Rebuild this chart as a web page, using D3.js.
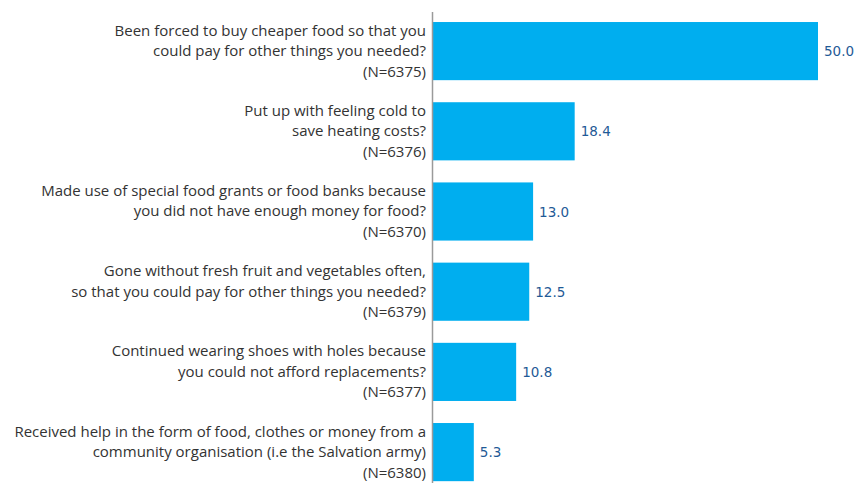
<!DOCTYPE html>
<html><head><meta charset="utf-8">
<script src="https://cdn.jsdelivr.net/npm/d3@7"></script>
<style>body{margin:0;background:#fff}svg{display:block}</style>
</head><body>
<svg id="c" width="857" height="483"></svg>
<script>
const labels = [
  ["Been forced to buy cheaper food so that you","could pay for other things you needed?","(N=6375)"],
  ["Put up with feeling cold to","save heating costs?","(N=6376)"],
  ["Made use of special food grants or food banks because","you did not have enough money for food?","(N=6370)"],
  ["Gone without fresh fruit and vegetables often,","so that you could pay for other things you needed?","(N=6379)"],
  ["Continued wearing shoes with holes because","you could not afford replacements?","(N=6377)"],
  ["Received help in the form of food, clothes or money from a","community organisation (i.e the Salvation army)","(N=6380)"]
];
const values = [50.0, 18.4, 13.0, 12.5, 10.8, 5.3];
const ids = d3.range(values.length);

const svg = d3.select("#c");
const x = d3.scaleLinear().domain([0, 50]).range([433, 818]);
const y = d3.scaleBand().domain(ids).range([11, 492.2]).paddingInner(0.275).paddingOuter(0.1375);

svg.selectAll("rect.bar").data(ids).join("rect")
  .attr("class","bar")
  .attr("x", x(0))
  .attr("y", i => y(i))
  .attr("width", i => x(values[i]) - x(0))
  .attr("height", y.bandwidth())
  .attr("fill", "#00AEEF");

svg.append("line").attr("x1", 432.5).attr("x2", 432.5).attr("y1", 12).attr("y2", 483)
  .attr("stroke", "#9a9a9a").attr("stroke-width", 1.5);

svg.selectAll("text.val").data(ids).join("text")
  .attr("class","val")
  .attr("x", i => x(values[i]) + 6)
  .attr("y", i => y(i) + y.bandwidth()/2)
  .attr("dy", "0.38em")
  .attr("font-family", "DejaVu Sans, Verdana, sans-serif")
  .attr("font-size", 13.5)
  .attr("fill", "#1F5A96")
  .text(i => values[i].toFixed(1));

const g = svg.selectAll("text.lab").data(ids).join("text")
  .attr("class","lab")
  .attr("text-anchor","end")
  .attr("font-family", "Open Sans, sans-serif")
  .attr("font-size", 15)
  .attr("fill", "#333");
g.each(function(i){
  const t = d3.select(this);
  const c = y(i) + y.bandwidth()/2;
  labels[i].forEach((s, k) => {
    t.append("tspan").attr("x", 426).attr("y", c + (k-1)*20.5).attr("dy","0.33em").text(s);
  });
});
</script>
</body></html>
